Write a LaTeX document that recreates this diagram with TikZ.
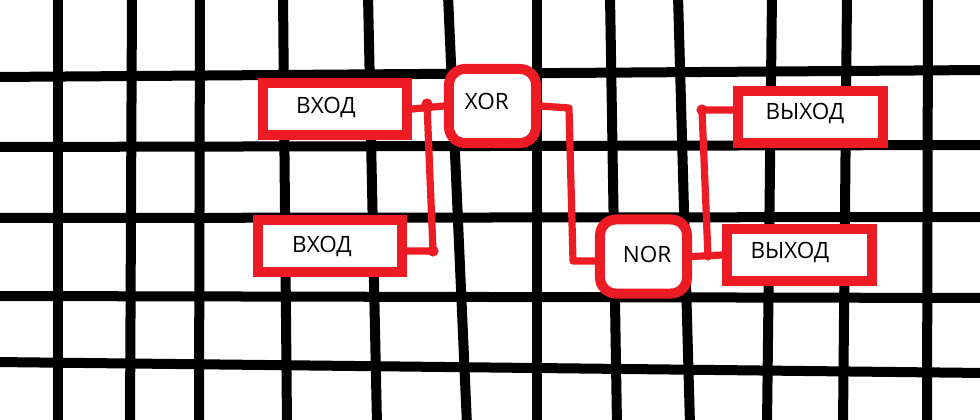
\documentclass[tikz,border=0pt]{standalone}
\usepackage{fontspec}
\setmainfont{Open Sans}
\definecolor{paintred}{HTML}{ED1C24}
\begin{document}
\begin{tikzpicture}[x=0.025cm,y=-0.025cm,
    gridline/.style={line width=0.25cm},
    iobox/.style={draw=paintred,line width=0.25cm,fill=white,inner sep=0pt,
      minimum width=3.6cm,minimum height=1.3cm},
    gatebox/.style={iobox,rounded corners=0.4cm,minimum width=2.175cm,minimum height=1.85cm},
    boxtext/.style={inner sep=0pt,font=\fontsize{16}{18}\selectfont},
    wire/.style={draw=paintred,line width=0.18cm,line cap=round,line join=round}]
  \useasboundingbox (0,0) rectangle (980,420);
  \fill[white] (0,0) rectangle (980,420);
  % grid
  \foreach \xt/\xb in {58/58,132/130,200/199,283/287,368/377,448/467,537/537,610/617,678/690,772/767,847/843,928/927}
    \draw[gridline] (\xt,-5) -- (\xb,425);
  \foreach \yl/\yr in {77/70,147/145,218/217,296/298,362/373}
    \draw[gridline] (-5,\yl) -- (985,\yr);
  % boxes
  \node[iobox,label={[boxtext,xshift=-0.225cm,yshift=0.05cm]center:ВХОД}] (in1) at (335,109) {};
  \node[iobox,label={[boxtext,xshift=-0.2cm]center:ВХОД}] (in2) at (330,246) {};
  \node[gatebox,label={[boxtext,xshift=-0.14cm,yshift=0.125cm]center:XOR}] (xor) at (492.5,106) {};
  \node[gatebox,label={[boxtext,xshift=0.09cm,yshift=0.04cm]center:NOR}] (nor) at (643.5,256.5) {};
  \node[iobox,minimum width=3.625cm,label={[boxtext,xshift=-0.14cm,yshift=0.1cm]center:ВЫХОД}] (out1) at (810.5,117) {};
  \node[iobox,minimum width=3.625cm,label={[boxtext,xshift=-0.24cm,yshift=0.075cm]center:ВЫХОД}] (out2) at (799.5,255) {};
  % wires
  \coordinate (j1) at (427,104);
  \coordinate (j2) at (433,251);
  \coordinate (b1) at (569,108);
  \coordinate (b2) at (573,261);
  \coordinate (c1) at (708,257);
  \coordinate (c2) at (702,110);
  \draw[wire] (in1.east) -- (xor.west);
  \draw[wire] (j1) -- (j2) -- (j2 -| in2.east);
  \draw[wire] (xor.east) -- (b1) -- (b2) -- (b2 -| nor.west);
  \draw[wire] (nor.east) -- (out2.west);
  \draw[wire] (c1) -- (c2) -- (c2 -| out1.west);
  \fill[paintred] (j1) circle (0.14cm);
  \fill[paintred] (j2) circle (0.14cm);
  \fill[paintred] (c2) circle (0.14cm);
\end{tikzpicture}
\end{document}
